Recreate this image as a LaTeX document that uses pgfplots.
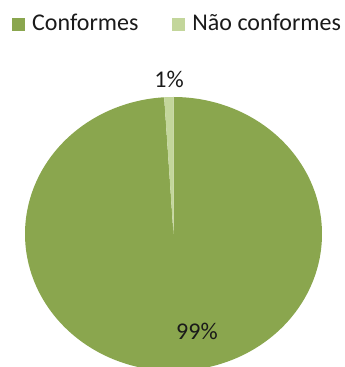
\documentclass[border=0pt]{standalone}
\usepackage{fontspec}
\setmainfont{Carlito}
\usepackage{pgfplots}
\usepackage{pgfplotstable}
\pgfplotsset{compat=1.18}
\definecolor{cA}{HTML}{8AA64E}
\definecolor{cB}{HTML}{C3D69B}
\definecolor{txt}{HTML}{1A1A1A}
\pgfplotstableread{
label value
Conformes 99
NaoConformes 1
}\piedata
\pgfplotstablegetelem{0}{value}\of\piedata\let\va\pgfplotsretval
\pgfplotstablegetelem{1}{value}\of\piedata\let\vb\pgfplotsretval
\pgfmathsetmacro\total{\va+\vb}
\pgfmathsetmacro\fA{\va/\total}
\pgfmathsetmacro\fB{\vb/\total}
\pgfmathsetmacro\aA{90-360*\fA}
\pgfmathtruncatemacro\pA{round(100*\fA)}
\pgfmathtruncatemacro\pB{round(100*\fB)}
\begin{document}
\begin{tikzpicture}
\clip (0,0) rectangle (345bp,367bp);
\begin{axis}[
  at={(25bp,-4bp)}, anchor=south west,
  scale only axis, width=297bp, height=274bp,
  xmin=-1, xmax=1, ymin=-1, ymax=1,
  hide axis, clip=false,
  font=\fontsize{24bp}{28bp}\selectfont,
  legend columns=2,
  legend image code/.code={\fill[#1] (0bp,-1bp) rectangle (13bp,12bp);},
  legend style={
    at={([xshift=-13bp,yshift=65bp]axis description cs:0,1)}, anchor=south west,
    draw=none, fill=none, inner sep=0pt, text=txt,
    font=\fontsize{24bp}{28bp}\selectfont,
    nodes={inner sep=0pt, anchor=base west},
    /tikz/every odd column/.append style={column sep=7bp},
    /tikz/every even column/.append style={column sep=34bp},
  },
]
\addplot[fill=cA, draw=none, domain=\aA:90, samples=361] ({cos(x)},{sin(x)}) -- (axis cs:0,0) -- cycle;
\addplot[fill=cB, draw=none, domain=-270:\aA, samples=11] ({cos(x)},{sin(x)}) -- (axis cs:0,0) -- cycle;
\legend{Conformes, Não conformes}
\node[text=txt, inner sep=0pt] at (axis cs:-0.03,1.13) {\pB\%};
\node[text=txt, inner sep=0pt] at (axis cs:0.158,-0.708) {\pA\%};
\end{axis}
\end{tikzpicture}
\end{document}
